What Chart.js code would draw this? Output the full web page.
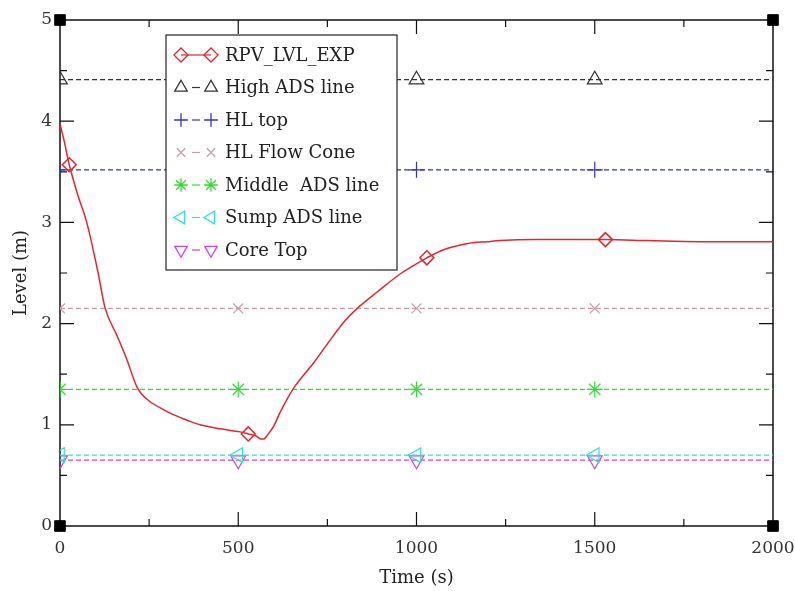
<!DOCTYPE html>
<html>
<head>
<meta charset="utf-8">
<script src="https://cdn.jsdelivr.net/npm/chart.js"></script>
<style>
  body { margin: 0; background: #fff; }
  #wrap { width: 795px; height: 591px; }
</style>
</head>
<body>
<div id="wrap"><canvas id="myChart"></canvas></div>
<script>
// RPV level (time in s, level in m)
const rpvTime = [0, 10, 26, 50, 75, 107, 126, 160, 187, 215, 230, 252, 290, 318, 360, 393, 450, 505, 528, 550, 563, 572, 580, 600, 617, 655, 711, 750, 800, 840, 889, 954, 990, 1029, 1076, 1141, 1200, 1235, 1328, 1400, 1530, 1650, 1796, 2000];
const rpvLevel = [3.97, 3.83, 3.57, 3.27, 3.00, 2.50, 2.16, 1.88, 1.65, 1.38, 1.30, 1.23, 1.15, 1.10, 1.04, 1.00, 0.96, 0.93, 0.91, 0.89, 0.86, 0.86, 0.89, 0.99, 1.12, 1.36, 1.61, 1.80, 2.03, 2.17, 2.31, 2.49, 2.57, 2.65, 2.73, 2.79, 2.81, 2.82, 2.83, 2.83, 2.83, 2.82, 2.81, 2.81];
const rpvMarkTimes = [26, 528, 1029, 1530];

// horizontal reference levels
const refNames = ['High ADS line', 'HL top', 'HL Flow Cone', 'Middle  ADS line', 'Sump ADS line', 'Core Top'];
const refLevels = [4.41, 3.52, 2.15, 1.35, 0.70, 0.65];
const refTimes = [0, 500, 1000, 1500, 2000];
const refMarkTimes = [0, 500, 1000, 1500];

const xTicks = [0, 500, 1000, 1500, 2000];
const yTicks = [0, 1, 2, 3, 4, 5];
const cornerPts = [[0, 0], [0, 5], [2000, 0], [2000, 5]];

const refStyles = [
  { color: '#333333', pointStyle: 'triangle', rotation: 0, radius: 8.5 },
  { color: '#3333bb', pointStyle: 'cross', rotation: 0, radius: 8 },
  { color: '#c4a0a8', pointStyle: 'crossRot', rotation: 0, radius: 7 },
  { color: '#33dd33', pointStyle: 'star', rotation: 0, radius: 8 },
  { color: '#33dddd', pointStyle: 'triangle', rotation: 270, radius: 8.5 },
  { color: '#cc44dd', pointStyle: 'triangle', rotation: 180, radius: 8.5 }
];

const FONT = "'DejaVu Serif', serif";

const datasets = [{
  label: 'RPV_LVL_EXP',
  data: rpvTime.map((t, i) => ({ x: t, y: rpvLevel[i] })),
  borderColor: '#e3262f',
  backgroundColor: 'rgba(0,0,0,0)',
  borderWidth: 1.5,
  pointStyle: 'rectRot',
  pointRadius: ctx => rpvMarkTimes.includes(ctx.raw.x) ? 7 : 0,
  pointBorderWidth: 1.5,
  cubicInterpolationMode: 'monotone'
}];

refNames.forEach((name, k) => {
  const s = refStyles[k];
  datasets.push({
    label: name,
    data: refTimes.map(t => ({ x: t, y: refLevels[k] })),
    borderColor: s.color,
    backgroundColor: 'rgba(0,0,0,0)',
    borderWidth: 1.2,
    borderDash: [5, 3],
    pointStyle: s.pointStyle,
    rotation: s.rotation,
    pointRadius: ctx => refMarkTimes.includes(ctx.raw.x) ? s.radius : 0,
    pointBorderWidth: 1.2
  });
});

datasets.push({
  label: 'corners',
  data: cornerPts.map(p => ({ x: p[0], y: p[1] })),
  showLine: false,
  pointStyle: 'rect',
  pointRadius: 7.5,
  backgroundColor: '#000',
  borderColor: '#000',
  clip: false
});

// frame with inward ticks on all four sides, plus the boxed legend
const framePlugin = {
  id: 'frame',
  beforeDatasetsDraw(chart) {
    const { ctx, chartArea: a, scales: { x, y } } = chart;
    ctx.save();
    ctx.strokeStyle = '#111';
    ctx.lineWidth = 1.5;
    ctx.strokeRect(a.left, a.top, a.right - a.left, a.bottom - a.top);
    ctx.lineWidth = 1.2;
    ctx.beginPath();
    for (let t = 250; t < 2000; t += 250) {
      const px = x.getPixelForValue(t);
      const len = t % 500 === 0 ? 14 : 7;
      ctx.moveTo(px, a.bottom); ctx.lineTo(px, a.bottom - len);
      ctx.moveTo(px, a.top); ctx.lineTo(px, a.top + len);
    }
    for (let v = 0.5; v < 5; v += 0.5) {
      const py = y.getPixelForValue(v);
      const len = Math.abs(v - Math.round(v)) < 0.01 ? 14 : 7;
      ctx.moveTo(a.left, py); ctx.lineTo(a.left + len, py);
      ctx.moveTo(a.right, py); ctx.lineTo(a.right - len, py);
    }
    ctx.stroke();
    ctx.restore();
  },
  afterDraw(chart) {
    const { ctx, chartArea: a } = chart;
    const bx = a.left + 106, by = a.top + 15, bw = 231, bh = 235;
    ctx.save();
    ctx.fillStyle = '#fff';
    ctx.fillRect(bx, by, bw, bh);
    ctx.strokeStyle = '#222';
    ctx.lineWidth = 1.2;
    ctx.strokeRect(bx, by, bw, bh);
    const sets = chart.data.datasets.slice(0, 7);
    sets.forEach((ds, i) => {
      const cy = by + 20 + i * 32.5;
      const x1 = bx + 15, x2 = bx + 45;
      ctx.strokeStyle = ds.borderColor;
      ctx.lineWidth = 1.2;
      ctx.beginPath();
      if (i === 0) {
        ctx.moveTo(x1, cy); ctx.lineTo(x2, cy);
      } else {
        ctx.moveTo(x1 + 11, cy); ctx.lineTo(x2 - 11, cy);
      }
      ctx.stroke();
      const st = i === 0 ? { pointStyle: 'rectRot', rotation: 0, radius: 7 } : refStyles[i - 1];
      ctx.fillStyle = 'rgba(0,0,0,0)';
      ctx.lineWidth = 1.3;
      [x1, x2].forEach(px => {
        Chart.helpers.drawPoint(ctx, {
          pointStyle: st.pointStyle, rotation: st.rotation,
          radius: i === 0 ? 7 : st.radius * 0.85, borderWidth: 1.3
        }, px, cy);
      });
      ctx.fillStyle = '#222';
      ctx.font = '18px ' + FONT;
      ctx.textBaseline = 'middle';
      ctx.textAlign = 'left';
      ctx.fillText(ds.label, bx + 59, cy + 1);
    });
    ctx.restore();
  }
};

new Chart(document.getElementById('myChart'), {
  type: 'line',
  data: { datasets },
  options: {
    responsive: true,
    maintainAspectRatio: false,
    animation: false,
    layout: { padding: { top: 20, right: 22, left: 0, bottom: 0 } },
    plugins: {
      legend: { display: false },
      tooltip: { enabled: false }
    },
    scales: {
      x: {
        type: 'linear',
        min: 0, max: 2000,
        afterFit(scale) { scale.height = 65; scale.paddingLeft = 0; scale.paddingRight = 0; },
        afterBuildTicks(scale) { scale.ticks = xTicks.map(v => ({ value: v })); },
        grid: { display: false, drawTicks: false, tickLength: 0 },
        border: { display: false },
        ticks: { padding: 12, color: '#333', maxRotation: 0, callback: v => String(v), font: { family: FONT, size: 17 } },
        title: { display: true, text: 'Time (s)', color: '#222', font: { family: FONT, size: 18 }, padding: { bottom: 2 } }
      },
      y: {
        type: 'linear',
        min: 0, max: 5,
        afterFit(scale) { scale.width = 60; scale.paddingTop = 0; scale.paddingBottom = 0; },
        afterBuildTicks(scale) { scale.ticks = yTicks.map(v => ({ value: v })); },
        grid: { display: false, drawTicks: false, tickLength: 0 },
        border: { display: false },
        ticks: { padding: 8, color: '#333', callback: v => String(v), font: { family: FONT, size: 17 } },
        title: { display: true, text: 'Level (m)', color: '#222', font: { family: FONT, size: 18 }, padding: { top: 11 } }
      }
    }
  },
  plugins: [framePlugin]
});
</script>
</body>
</html>
